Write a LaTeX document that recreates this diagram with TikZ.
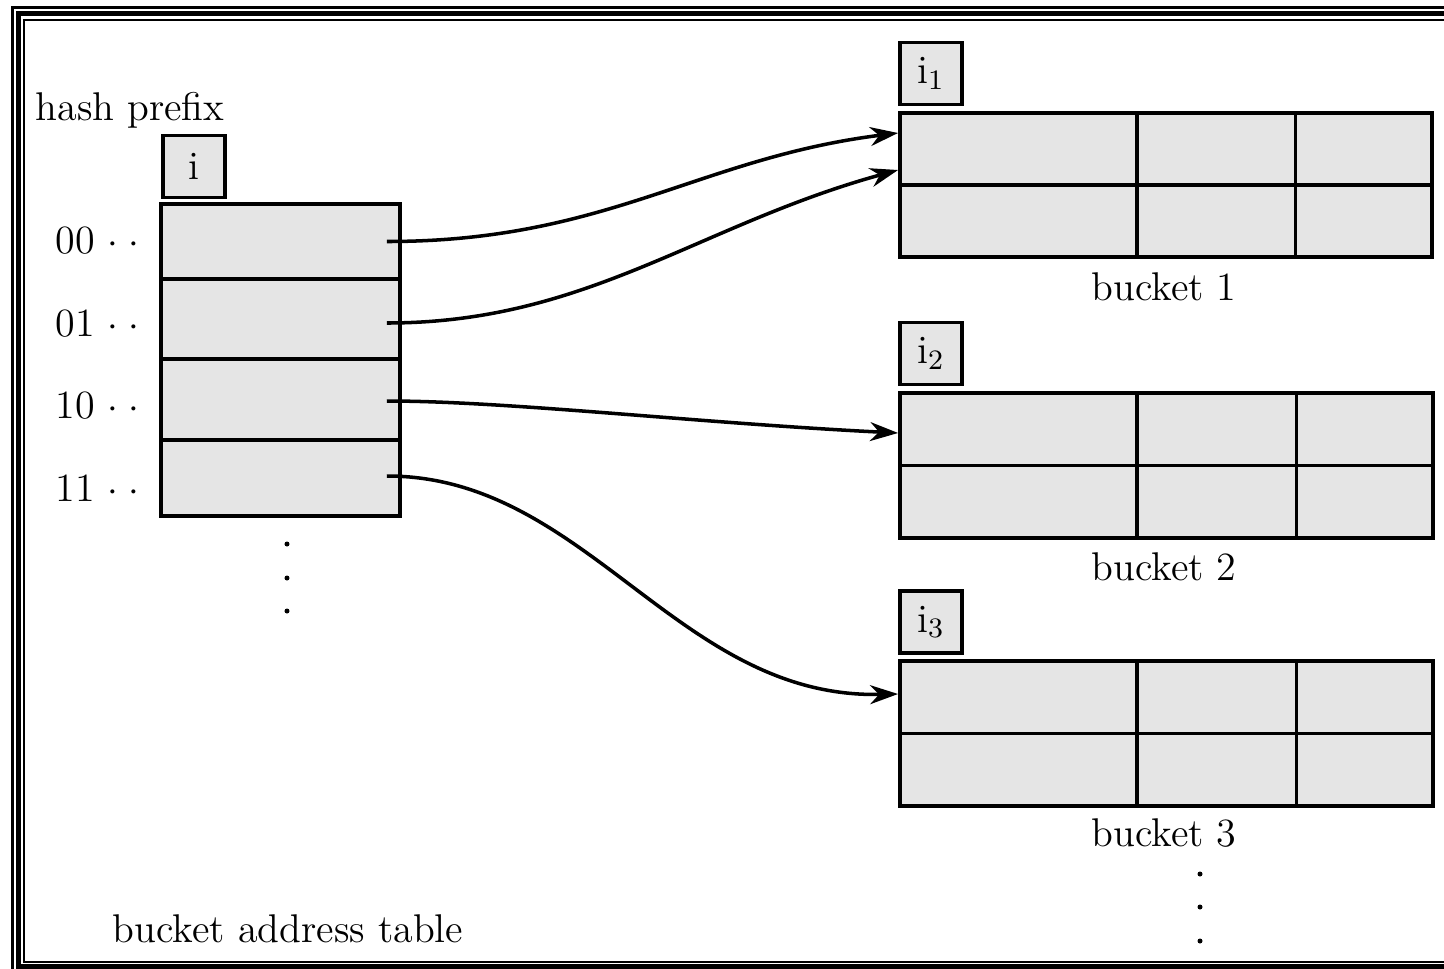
\documentclass[tikz,border=0pt]{standalone}
\usetikzlibrary{arrows.meta}

\begin{document}
\begin{tikzpicture}[x=0.01cm, y=-0.01cm,
		cell/.style={draw, line width=1pt, fill=gray!20, inner sep=0pt},
		lbl/.style={font=\fontsize{11.4}{13}\selectfont, inner sep=0pt},
		ptr/.style={-{Stealth[length=2.8mm, width=1.9mm, inset=.9mm]}, line width=1pt},
		grid/.style={line width=1pt}]
			\useasboundingbox (0,0) rectangle (1444,969);
			\clip (0,0) rectangle (1444,969);
			% frame
			\draw[line width=.03cm] (12.5,7.5) rectangle (1600,1000);
			\draw[line width=.05cm] (18.5,13.5) rectangle (1600,966);
			\draw[line width=.02cm] (24,20) rectangle (1600,962);
			% bucket address table
			\node[lbl, anchor=base] (hash) at (130,120) {hash prefix};
			\node[cell, lbl, minimum size=.62cm] (i) at (194,166.5) {i};
			\node[cell, minimum width=2.39cm, minimum height=.75cm] (t0) at (280.5,241.5) {};
			\node[cell, minimum width=2.39cm, minimum height=.80cm] (t1) at (280.5,319) {};
			\node[cell, minimum width=2.39cm, minimum height=.81cm] (t2) at (280.5,399.5) {};
			\node[cell, minimum width=2.39cm, minimum height=.76cm] (t3) at (280.5,478) {};
			\node[lbl, anchor=base east] (p0) at (140,253) {00 $\cdot$\hspace{1mm}$\cdot$};
			\node[lbl, anchor=base east] (p1) at (140,336) {01 $\cdot$\hspace{1mm}$\cdot$};
			\node[lbl, anchor=base east] (p2) at (140,418) {10 $\cdot$\hspace{1mm}$\cdot$};
			\node[lbl, anchor=base east] (p3) at (140,501) {11 $\cdot$\hspace{1mm}$\cdot$};
			\fill (287,544) circle[radius=.025cm] (287,578) circle[radius=.025cm] (287,611) circle[radius=.025cm];
			\node[lbl, anchor=base] (table) at (288,942) {bucket address table};
			% buckets
			\node[cell, lbl, minimum size=.62cm] (i1) at (931,73.5) {i$_1$};
			\node[cell, minimum width=5.32cm, minimum height=1.44cm] (b1) at (1166,185) {};
			\draw[grid] (b1.west) -- (b1.east);
			\draw[grid] ([xshift=2.39cm]b1.north west) -- ([xshift=2.39cm]b1.south west);
			\draw[grid] ([xshift=3.97cm]b1.north west) -- ([xshift=3.97cm]b1.south west);
			\node[lbl, anchor=base] (n1) at (1164,300) {bucket 1};
			\node[cell, lbl, minimum size=.62cm] (i2) at (931,353.5) {i$_2$};
			\node[cell, minimum width=5.33cm, minimum height=1.45cm] (b2) at (1166.5,465.5) {};
			\draw[grid] (b2.west) -- (b2.east);
			\draw[grid] ([xshift=2.39cm]b2.north west) -- ([xshift=2.39cm]b2.south west);
			\draw[grid] ([xshift=3.98cm]b2.north west) -- ([xshift=3.98cm]b2.south west);
			\node[lbl, anchor=base] (n2) at (1164,580) {bucket 2};
			\node[cell, lbl, minimum size=.62cm] (i3) at (931,622) {i$_3$};
			\node[cell, minimum width=5.33cm, minimum height=1.45cm] (b3) at (1166.5,733.5) {};
			\draw[grid] (b3.west) -- (b3.east);
			\draw[grid] ([xshift=2.39cm]b3.north west) -- ([xshift=2.39cm]b3.south west);
			\draw[grid] ([xshift=3.98cm]b3.north west) -- ([xshift=3.98cm]b3.south west);
			\node[lbl, anchor=base] (n3) at (1164,846) {bucket 3};
			\fill (1200,874) circle[radius=.025cm] (1200,907) circle[radius=.025cm] (1200,941) circle[radius=.025cm];
			% pointers
			\coordinate (s0) at ([xshift=-.15cm]t0.east);
			\coordinate (s1) at ([shift={(-15,4)}]t1.east);
			\coordinate (s2) at ([shift={(-15,1.5)}]t2.east);
			\coordinate (s3) at ([shift={(-15,-2)}]t3.east);
			\coordinate (e0) at ([shift={(0,-52)}]b1.west);
			\coordinate (e1) at ([shift={(0,-15)}]b1.west);
			\coordinate (e2) at ([shift={(0,-32.5)}]b2.west);
			\coordinate (e3) at ([shift={(0,-39.5)}]b3.west);
			\draw[ptr] (s0) .. controls +(220,0) and +(-200,25) .. (e0);
			\draw[ptr] (s1) .. controls +(200,0) and +(-200,55) .. (e1);
			\draw[ptr] (s2) .. controls +(120,0) and +(-200,-10) .. (e2);
			\draw[ptr] (s3) .. controls +(200,0) and +(-220,5) .. (e3);
		\end{tikzpicture}
\end{document}
